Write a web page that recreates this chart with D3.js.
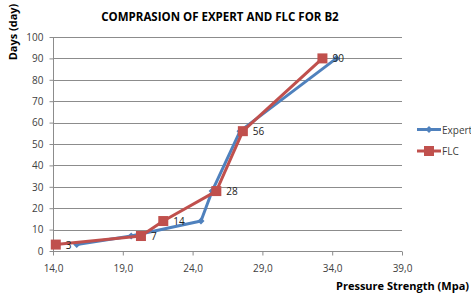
<!DOCTYPE html>
<html>
<head>
<meta charset="utf-8">
<script src="https://cdn.jsdelivr.net/npm/d3@7"></script>
<style>
  body { margin: 0; background: #fff; }
  text { font-family: "Open Sans", "Liberation Sans", sans-serif; }
</style>
</head>
<body>
<div id="canvas"></div>
<script>
// chart size
var w = 471;
var h = 295;
var margin = {top: 37, right: 69, bottom: 44, left: 53};

// data
var expertX = [15.7, 19.6, 24.6, 25.4, 27.4, 34.3];
var expertY = [3, 7, 14, 28, 56, 90];
var flcX = [14.2, 20.3, 21.9, 25.7, 27.6, 33.3];
var flcY = [3, 7, 14, 28, 56, 90];
var xTicks = [14, 19, 24, 29, 34, 39];
var yTicks = [0, 10, 20, 30, 40, 50, 60, 70, 80, 90, 100];

var blue = "#4F81BD";
var red = "#C0504D";

var svg = d3.select("#canvas")
    .append("svg")
    .attr("width", w)
    .attr("height", h);

var x_scale = d3.scaleLinear()
    .domain([14, 39])
    .range([margin.left, w - margin.right]);

var y_scale = d3.scaleLinear()
    .domain([0, 100])
    .range([h - margin.bottom, margin.top]);

// gridlines
svg.append("g")
    .selectAll("line")
    .data(yTicks.slice(1))
    .join("line")
    .attr("x1", x_scale(14))
    .attr("x2", x_scale(39))
    .attr("y1", d => Math.round(y_scale(d)) + 0.5)
    .attr("y2", d => Math.round(y_scale(d)) + 0.5)
    .attr("stroke", "#8c8c8c")
    .attr("stroke-width", 1);

// axes
var xAxis = svg.append("g")
    .attr("transform", `translate(0,${Math.round(y_scale(0)) + 0.5})`)
    .call(d3.axisBottom(x_scale).tickValues(xTicks).tickSize(4).tickPadding(9)
        .tickFormat(d => d3.format(".1f")(d).replace(".", ",")));

var yAxis = svg.append("g")
    .attr("transform", `translate(${Math.round(x_scale(14)) + 0.5},0)`)
    .call(d3.axisLeft(y_scale).tickValues(yTicks).tickSize(4).tickPadding(6));

[xAxis, yAxis].forEach(function(a) {
    a.select(".domain").attr("stroke", "#8c8c8c");
    a.selectAll(".tick line").attr("stroke", "#8c8c8c");
    a.selectAll(".tick text").attr("fill", "#404040").style("font-size", "10px");
});
xAxis.select(".domain").attr("d", `M${x_scale(14)},0H${x_scale(39)}`);
yAxis.select(".domain").attr("d", `M0,${y_scale(100)}V${y_scale(0)}`);

// lines
var line = d3.line()
    .x(d => x_scale(d[0]))
    .y(d => y_scale(d[1]));

var expertPts = expertX.map((d, i) => [d, expertY[i]]);
var flcPts = flcX.map((d, i) => [d, flcY[i]]);

svg.append("path")
    .datum(expertPts)
    .attr("d", line)
    .attr("fill", "none")
    .attr("stroke", blue)
    .attr("stroke-width", 3)
    .attr("stroke-linejoin", "round");

svg.selectAll(".diamond")
    .data(expertPts)
    .join("path")
    .attr("class", "diamond")
    .attr("d", d3.symbol(d3.symbolDiamond2, 32))
    .attr("transform", d => `translate(${x_scale(d[0])},${y_scale(d[1])})`)
    .attr("fill", blue);

svg.append("path")
    .datum(flcPts)
    .attr("d", line)
    .attr("fill", "none")
    .attr("stroke", red)
    .attr("stroke-width", 3)
    .attr("stroke-linejoin", "round");

svg.selectAll(".square")
    .data(flcPts)
    .join("rect")
    .attr("class", "square")
    .attr("x", d => x_scale(d[0]) - 5)
    .attr("y", d => y_scale(d[1]) - 5)
    .attr("width", 10)
    .attr("height", 10)
    .attr("fill", red);

// data labels
svg.selectAll(".lbl")
    .data(flcPts)
    .join("text")
    .attr("class", "lbl")
    .attr("x", d => x_scale(d[0]) + 10)
    .attr("y", d => y_scale(d[1]) + 4)
    .style("font-size", "10px")
    .attr("fill", "#222")
    .text(d => d[1]);

// title
svg.append("text")
    .attr("x", 220)
    .attr("y", 21)
    .attr("text-anchor", "middle")
    .style("font-size", "11.5px")
    .style("font-weight", "bold")
    .text("COMPRASION OF EXPERT AND FLC FOR B2");

// axis titles
svg.append("text")
    .attr("transform", "translate(17,32) rotate(-90)")
    .attr("text-anchor", "middle")
    .style("font-size", "11px")
    .style("font-weight", "bold")
    .text("Days (day)");

svg.append("text")
    .attr("x", 469)
    .attr("y", 290)
    .attr("text-anchor", "end")
    .style("font-size", "11px")
    .style("font-weight", "bold")
    .text("Pressure Strength (Mpa)");

// legend
var legend = [{name: "Expert", color: blue, y: 129.5}, {name: "FLC", color: red, y: 151}];
legend.forEach(function(l) {
    svg.append("line")
        .attr("x1", 417).attr("x2", 441)
        .attr("y1", l.y).attr("y2", l.y)
        .attr("stroke", l.color).attr("stroke-width", 3);
    if (l.name == "Expert") {
        svg.append("path")
            .attr("d", d3.symbol(d3.symbolDiamond2, 32))
            .attr("transform", `translate(429,${l.y})`)
            .attr("fill", l.color);
    } else {
        svg.append("rect")
            .attr("x", 424).attr("y", l.y - 5)
            .attr("width", 10).attr("height", 10)
            .attr("fill", l.color);
    }
    svg.append("text")
        .attr("x", 442)
        .attr("y", l.y + 4)
        .style("font-size", "10px")
        .attr("fill", "#404040")
        .text(l.name);
});
</script>
</body>
</html>
